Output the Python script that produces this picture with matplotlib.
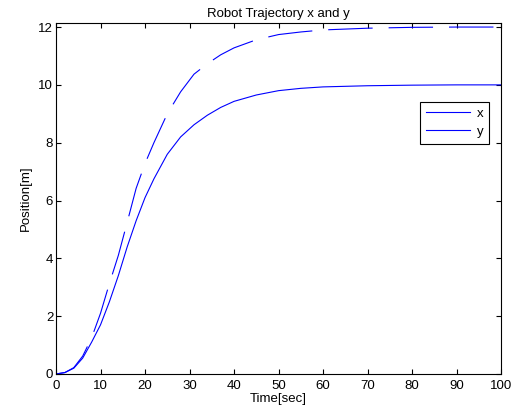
import matplotlib

matplotlib.use("Agg")
import matplotlib.pyplot as plt
from matplotlib.lines import Line2D

# values
time_s = [0, 2, 4, 6, 8, 10, 12, 14, 16, 18, 20, 22, 25, 28, 31, 34, 37, 40,
          45, 50, 55, 60, 70, 80, 90, 100]
pos_x = [0, 0.05, 0.2, 0.55, 1.1, 1.7, 2.5, 3.4, 4.4, 5.3, 6.1, 6.75, 7.6,
         8.2, 8.62, 8.95, 9.22, 9.43, 9.65, 9.8, 9.88, 9.93, 9.97, 9.99, 10, 10]
pos_y = [0, 0.05, 0.22, 0.62, 1.25, 2.1, 3.13, 4.1, 5.25, 6.42, 7.28, 8.0,
         9.0, 9.76, 10.37, 10.73, 11.04, 11.28, 11.56, 11.74, 11.83, 11.9,
         11.96, 11.99, 12, 12]
legend_labels = ["x", "y"]

fs = 9.5
plt.rcParams["font.family"] = ["Liberation Sans", "DejaVu Sans"]
plt.rcParams["font.size"] = fs
plt.rcParams["lines.scale_dashes"] = False

fig = plt.figure(figsize=(5.2, 4.16), dpi=100)
ax = fig.add_axes([0.1077, 0.101, 0.856, 0.8444])

ax.plot(time_s, pos_x, color="blue", linewidth=0.8)
ax.plot(time_s, pos_y, color="blue", linewidth=0.8, dashes=(32, 11.5))

ax.set_xlim(0, 100)
ax.set_ylim(0, 12.15)
ax.set_xticks(range(0, 101, 10))
ax.set_yticks(range(0, 13, 2))
ax.tick_params(direction="in", top=True, right=True, length=3.5, width=0.8,
               labelsize=fs)
ax.tick_params(axis="x", pad=4)
ax.tick_params(axis="y", pad=2)
for sp in ax.spines.values():
    sp.set_linewidth(0.8)

ax.set_title("Robot Trajectory x and y", fontsize=fs, pad=4)
ax.set_xlabel("Time[sec]", fontsize=fs, labelpad=1)
ax.set_ylabel("Position[m]", fontsize=fs, labelpad=5)

handles = [Line2D([0], [0], color="blue", linewidth=0.8) for _ in legend_labels]
leg = ax.legend(handles, legend_labels, loc="upper right",
                bbox_to_anchor=(0.973, 0.775), borderaxespad=0,
                fancybox=False, framealpha=1, edgecolor="black",
                handlelength=3.3, handletextpad=0.5, borderpad=0.45,
                labelspacing=0.45, fontsize=fs)
leg.get_frame().set_linewidth(0.8)

fig.savefig("out.png", dpi=100)
